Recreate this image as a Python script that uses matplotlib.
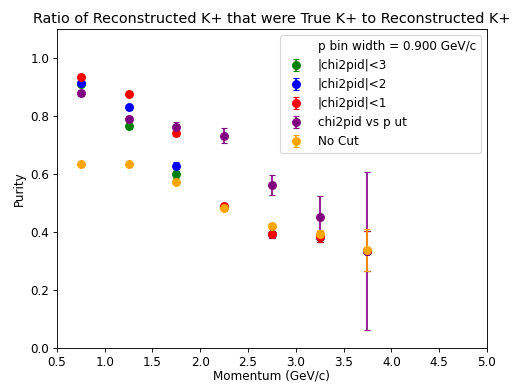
import matplotlib
matplotlib.use("Agg")
import matplotlib.pyplot as plt

plt.rcParams['font.size'] = 10.8

momentum = [0.75, 1.25, 1.75, 2.25, 2.75, 3.25, 3.75]

chi3 = [0.912, 0.766, 0.599, 0.488, 0.393, 0.384, 0.335]
chi3_err = [0.008, 0.010, 0.012, 0.010, 0.012, 0.020, 0.07]
chi2 = [0.913, 0.830, 0.628, 0.488, 0.393, 0.384, 0.335]
chi2_err = [0.008, 0.010, 0.012, 0.010, 0.012, 0.020, 0.07]
chi1 = [0.935, 0.878, 0.742, 0.490, 0.393, 0.384, 0.335]
chi1_err = [0.010, 0.010, 0.012, 0.010, 0.012, 0.020, 0.07]
vsp = [0.880, 0.789, 0.763, 0.733, 0.562, 0.453, 0.335]
vsp_err = [0.010, 0.010, 0.015, 0.025, 0.035, 0.07, 0.272]
nocut = [0.636, 0.633, 0.573, 0.482, 0.422, 0.393, 0.338]
nocut_err = [0.006, 0.006, 0.008, 0.008, 0.010, 0.015, 0.072]

fig, ax = plt.subplots(figsize=(6.4, 4.8), dpi=80)
fig.subplots_adjust(left=0.111, right=0.951, bottom=0.094, top=0.924)

ax.plot([], [], ' ', label="p bin width = 0.900 GeV/c")
series = [
    (chi3, chi3_err, "green", "|chi2pid|<3"),
    (chi2, chi2_err, "blue", "|chi2pid|<2"),
    (chi1, chi1_err, "red", "|chi2pid|<1"),
    (vsp, vsp_err, "purple", "chi2pid vs p ut"),
    (nocut, nocut_err, "orange", "No Cut"),
]
for y, e, c, lab in series:
    ax.errorbar(momentum, y, yerr=e, fmt='o', color=c, capsize=3, markersize=7, label=lab)

ax.set_xlim(0.5, 5.0)
ax.set_ylim(0, 1.1)
ax.set_xlabel("Momentum (GeV/c)", labelpad=1)
ax.set_ylabel("Purity")
ax.set_title("Ratio of Reconstructed K+ that were True K+ to Reconstructed K+")
ax.legend(loc="upper right")

fig.savefig("out.png")
